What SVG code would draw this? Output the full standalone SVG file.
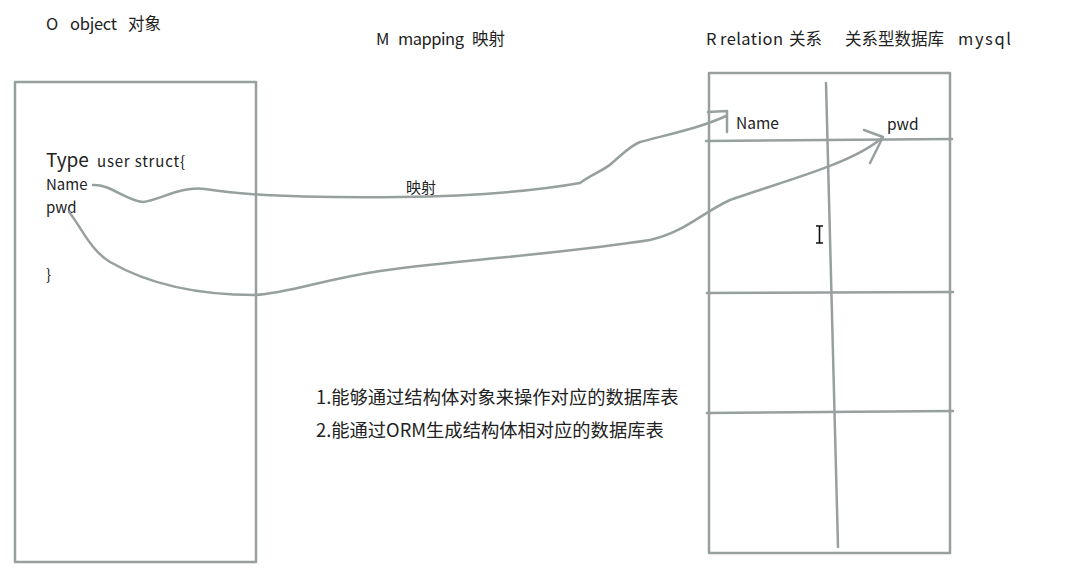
<svg xmlns="http://www.w3.org/2000/svg" width="1089" height="579" viewBox="0 0 1089 579">
<style>
.t{font-family:"Noto Sans CJK SC","Noto Sans",sans-serif;fill:#222}
.h{font-size:16.5px}
.ln{fill:none;stroke:#979f9f;stroke-width:2.5;stroke-linecap:round;stroke-linejoin:round}
</style>
<rect width="1089" height="579" fill="#ffffff"/>
<g id="headers">
<text class="t h" x="46" y="30">O</text>
<text class="t h" x="70" y="30" textLength="47">object</text>
<text class="t h" x="128" y="30">对象</text>
<text class="t h" x="376" y="45">M</text>
<text class="t h" x="398" y="45" textLength="66">mapping</text>
<text class="t h" x="472" y="45">映射</text>
<text class="t h" x="706" y="45">R</text>
<text class="t h" x="720" y="45" textLength="63">relation</text>
<text class="t h" x="789" y="45">关系</text>
<text class="t h" x="845" y="45">关系型数据库</text>
<text class="t h" x="958" y="45" textLength="53">mysql</text>
</g>
<g id="object">
<rect class="ln" x="15" y="82" width="241" height="480"/>
<text class="t" x="46" y="167" font-size="19">Type</text>
<text class="t" x="97" y="167" font-size="15" textLength="88">user struct{</text>
<text class="t" x="46" y="190" font-size="15">Name</text>
<text class="t" x="46" y="213" font-size="15">pwd</text>
<text class="t" x="46" y="280" font-size="15">}</text>
</g>
<g id="table">
<rect class="ln" x="709" y="73" width="241" height="480"/>
<path class="ln" d="M826 83 L838 547"/>
<path class="ln" d="M706 141 L952 139"/>
<path class="ln" d="M707 293 L953 292"/>
<path class="ln" d="M707 413 L953 411"/>
<text class="t" x="736" y="129" font-size="15.5">Name</text>
<text class="t" x="887" y="130" font-size="15.5">pwd</text>
</g>
<g id="connectors">
<path class="ln" d="M93 185 C110 184 125 200 143 202 C160 200 180 186 205 189 C240 195 300 198 400 197 C480 196 540 190 580 183 C590 175 605 170 612 163 C625 152 630 146 640 142 C670 134 700 128 726 116"/>
<path class="ln" d="M708 112 L727 111 L727 132"/>
<path class="ln" d="M69 212 C80 225 90 250 110 262 C150 285 200 295 255 295 C290 293 320 280 380 271 C460 260 560 254 650 240 C685 232 700 214 730 200 C780 182 850 165 882 138"/>
<path class="ln" d="M864 130 L883 137 L870 163"/>
<text class="t" x="406" y="193" font-size="15">映射</text>
</g>
<path d="M816 226 H823 M819.5 226 V243 M816 243 H823" fill="none" stroke="#111" stroke-width="1.6"/>
<text class="t" x="316" y="404" font-size="18.3">1.能够通过结构体对象来操作对应的数据库表</text>
<text class="t" x="316" y="437" font-size="18.3">2.能通过ORM生成结构体相对应的数据库表</text>
</svg>
